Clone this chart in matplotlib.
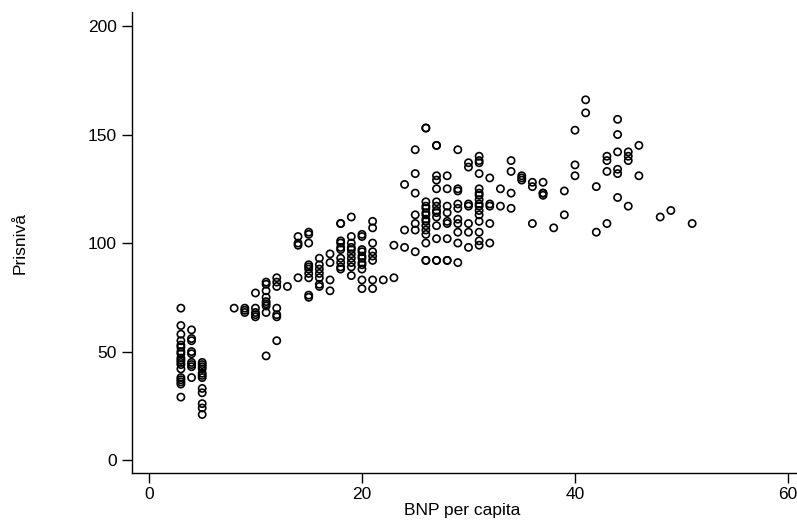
import matplotlib
matplotlib.use("Agg")
import matplotlib.pyplot as plt

plt.rcParams['font.family'] = ['Liberation Sans', 'DejaVu Sans']

bnp_groups = [3, 4, 5, 8, 9, 10, 11, 12, 13, 14, 15, 16, 17, 18, 19, 20, 21, 22, 23, 24,
              25, 26, 27, 28, 29, 30, 31, 32, 33, 34, 35, 36, 37, 38, 39, 40, 41, 42, 43,
              44, 45, 46, 48, 49, 51]
prisniva_groups = [
    [70, 62, 58, 55, 53, 52, 50, 49, 47, 46, 45, 44, 42, 38, 37, 36, 35, 29],
    [60, 56, 55, 50, 49, 45, 44, 43, 38],
    [45, 44, 43, 42, 40, 39, 38, 33, 31, 26, 24, 21],
    [70],
    [70, 69, 68],
    [77, 70, 68, 67, 66],
    [82, 81, 78, 75, 73, 72, 71, 68, 48],
    [84, 82, 80, 70, 67, 66, 55],
    [80],
    [103, 100, 99, 84],
    [105, 104, 100, 90, 89, 88, 86, 84, 76, 75],
    [93, 90, 88, 86, 84, 81, 80],
    [95, 91, 83, 78],
    [109, 109, 101, 100, 98, 97, 93, 91, 89, 88],
    [112, 103, 100, 98, 97, 95, 93, 91, 89, 85],
    [104, 103, 97, 96, 94, 93, 91, 90, 88, 83, 79],
    [110, 107, 100, 96, 94, 92, 83, 79],
    [83],
    [99, 84],
    [127, 106, 98],
    [143, 132, 123, 113, 109, 106, 96],
    [153, 153, 119, 117, 116, 114, 113, 111, 110, 108, 106, 104, 100, 92, 92],
    [145, 145, 131, 129, 125, 119, 117, 115, 114, 112, 108, 102, 92, 92],
    [131, 125, 117, 114, 110, 109, 102, 92, 92],
    [143, 125, 124, 118, 116, 111, 109, 105, 100, 91],
    [137, 135, 118, 117, 109, 105, 98],
    [140, 138, 137, 132, 125, 123, 122, 120, 118, 117, 115, 113, 110, 105, 101, 99],
    [130, 118, 117, 109, 100],
    [125, 117],
    [138, 133, 123, 116],
    [131, 130, 129],
    [128, 126, 109],
    [128, 123, 123, 122],
    [107],
    [124, 113],
    [152, 136, 131],
    [166, 160],
    [126, 105],
    [140, 138, 133, 109],
    [157, 150, 142, 134, 132, 121],
    [142, 140, 138, 117],
    [145, 131],
    [112],
    [115],
    [109],
]

x_ticks = [0, 20, 40, 60]
y_ticks = [0, 50, 100, 150, 200]

xs = []
ys = []
for xv, yl in zip(bnp_groups, prisniva_groups):
    for yv in yl:
        xs.append(xv)
        ys.append(yv)

W, H = 797, 522
fig = plt.figure(figsize=(W / 100, H / 100), dpi=100)
fig.patch.set_facecolor('white')

left_px, right_px, top_px, bottom_px = 132, 804, 11.7, 473.3
ax = fig.add_axes([left_px / W, 1 - bottom_px / H,
                   (right_px - left_px) / W, (bottom_px - top_px) / H])

ax.scatter(xs, ys, s=27, facecolors='none', edgecolors='black', linewidths=1.2, zorder=3)

ax.set_xlim(-1.59, 61.5)
ax.set_ylim(-6.1, 206.6)
ax.set_xticks(x_ticks)
ax.set_yticks(y_ticks)
ax.tick_params(axis='both', labelsize=12.5, length=7, width=1.0, direction='out', pad=3)
ax.tick_params(axis='y', pad=4)
for side in ['top', 'right']:
    ax.spines[side].set_visible(False)
for side in ['left', 'bottom']:
    ax.spines[side].set_linewidth(1.0)

ax.set_xlabel('BNP per capita', fontsize=12.5)
ax.set_ylabel('Prisnivå', fontsize=12.5)
ax.xaxis.set_label_coords((462 - left_px) / (right_px - left_px),
                          (bottom_px - 503) / (bottom_px - top_px))
ax.yaxis.set_label_coords((28 - left_px) / (right_px - left_px), 0.5)

fig.savefig('out.png', dpi=100, facecolor='white')
